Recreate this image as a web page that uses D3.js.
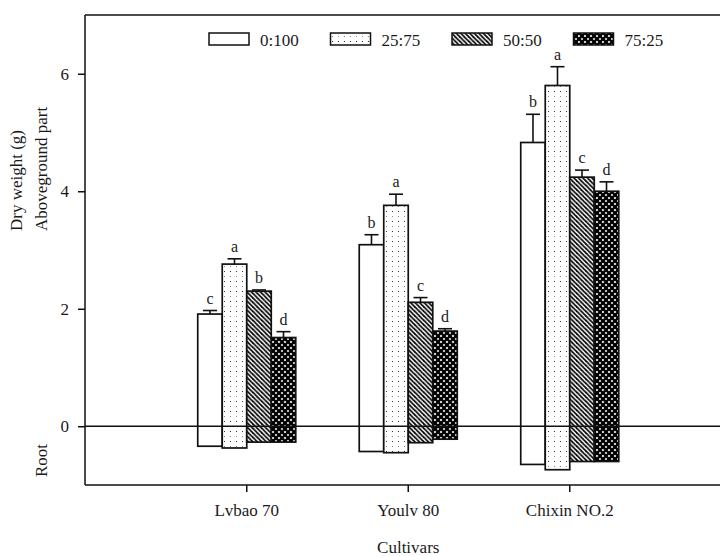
<!DOCTYPE html>
<html>
<head>
<meta charset="utf-8">
<script src="https://cdn.jsdelivr.net/npm/d3@7"></script>
<style>
  html, body { margin: 0; padding: 0; background: #ffffff; }
  svg { display: block; }
  svg text { font-family: "Liberation Serif", serif !important; fill: #1a1a1a; }
</style>
</head>
<body>
<svg id="chart" width="720" height="556"></svg>
<script>
// ---------- data ----------
const categories = ["Lvbao 70", "Youlv 80", "Chixin NO.2"];
const series = ["0:100", "25:75", "50:50", "75:25"];
// aboveground dry weight (g), per category, per series
const aboveValues = [
  [1.91, 2.76, 2.30, 1.51],
  [3.09, 3.76, 2.11, 1.62],
  [4.83, 5.80, 4.24, 4.00]
];
const aboveErrors = [
  [0.06, 0.09, 0.02, 0.10],
  [0.17, 0.19, 0.08, 0.04],
  [0.48, 0.32, 0.12, 0.16]
];
// root dry weight plotted downward
const rootValues = [
  [-0.34, -0.37, -0.27, -0.27],
  [-0.43, -0.45, -0.28, -0.22],
  [-0.65, -0.74, -0.60, -0.60]
];
const letters = [
  ["c", "a", "b", "d"],
  ["b", "a", "c", "d"],
  ["b", "a", "c", "d"]
];
const yTicks = [0, 2, 4, 6];

// ---------- setup ----------
const svg = d3.select("#chart");
const pLeft = 85, pRight = 720, pTop = 15, pBottom = 485;
const FONT = '"Liberation Serif", serif';

const defs = svg.append("defs");
// dotted pattern
const pDots = defs.append("pattern").attr("id", "p1")
  .attr("patternUnits", "userSpaceOnUse").attr("width", 6).attr("height", 10);
pDots.append("rect").attr("width", 6).attr("height", 10).attr("fill", "#fff");
pDots.append("rect").attr("x", 2).attr("y", 1).attr("width", 1).attr("height", 1).attr("fill", "#333");
pDots.append("rect").attr("x", 2).attr("y", 6).attr("width", 1).attr("height", 1).attr("fill", "#888");
// diagonal hatch "\\"
const hs = 4.5;
const pHatch = defs.append("pattern").attr("id", "p2")
  .attr("patternUnits", "userSpaceOnUse").attr("width", hs).attr("height", hs);
pHatch.append("rect").attr("width", hs).attr("height", hs).attr("fill", "#fff");
[[-1, -1, hs + 1, hs + 1], [-1, hs - 1, 1, hs + 1], [hs - 1, -1, hs + 1, 1]].forEach(l =>
  pHatch.append("line").attr("x1", l[0]).attr("y1", l[1]).attr("x2", l[2]).attr("y2", l[3])
    .attr("stroke", "#000").attr("stroke-width", 1.7));
// cross hatch
const cs = 6;
const pCross = defs.append("pattern").attr("id", "p3")
  .attr("patternUnits", "userSpaceOnUse").attr("width", cs).attr("height", cs);
pCross.append("rect").attr("width", cs).attr("height", cs).attr("fill", "#fff");
[[-1, -1, cs + 1, cs + 1], [-1, cs + 1, cs + 1, -1]].forEach(l =>
  pCross.append("line").attr("x1", l[0]).attr("y1", l[1]).attr("x2", l[2]).attr("y2", l[3])
    .attr("stroke", "#000").attr("stroke-width", 2.3));

const fills = ["#ffffff", "url(#p1)", "url(#p2)", "url(#p3)"];

// ---------- scales ----------
const y = d3.scaleLinear().domain([-1, 7]).range([pBottom, pTop]);
const x = d3.scaleBand().domain(categories).range([166, 650.5])
  .paddingInner(0.393).paddingOuter(0.1965);
const xs = d3.scaleBand().domain(series).range([0, x.bandwidth()]);

// ---------- bars ----------
const flat = [];
categories.forEach((c, i) => series.forEach((s, j) => flat.push({
  c, s, j, v: aboveValues[i][j], e: aboveErrors[i][j], r: rootValues[i][j], l: letters[i][j]
})));

const barG = svg.append("g");
flat.forEach(d => {
  const bx = x(d.c) + xs(d.s);
  barG.append("rect")
    .attr("x", bx).attr("width", xs.bandwidth())
    .attr("y", y(d.v)).attr("height", y(d.r) - y(d.v))
    .attr("fill", fills[d.j]).attr("stroke", "#111").attr("stroke-width", 1.7);
  const cx = bx + xs.bandwidth() / 2;
  barG.append("line").attr("x1", cx).attr("x2", cx)
    .attr("y1", y(d.v)).attr("y2", y(d.v + d.e))
    .attr("stroke", "#111").attr("stroke-width", 1.6);
  barG.append("line").attr("x1", cx - 7).attr("x2", cx + 7)
    .attr("y1", y(d.v + d.e)).attr("y2", y(d.v + d.e))
    .attr("stroke", "#111").attr("stroke-width", 1.6);
  barG.append("text").attr("x", cx).attr("y", y(d.v + d.e) - 7)
    .attr("text-anchor", "middle").style("font-family", FONT).attr("font-size", 16).text(d.l);
});

// ---------- frame / zero line ----------
const frame = svg.append("g").attr("stroke", "#111").attr("stroke-width", 1.5);
frame.append("line").attr("x1", pLeft).attr("x2", pLeft).attr("y1", pTop).attr("y2", pBottom);
frame.append("line").attr("x1", pLeft).attr("x2", pRight).attr("y1", pTop).attr("y2", pTop);
frame.append("line").attr("x1", pLeft).attr("x2", pRight).attr("y1", pBottom).attr("y2", pBottom);
frame.append("line").attr("x1", pLeft).attr("x2", pRight).attr("y1", y(0)).attr("y2", y(0));

// ---------- axes ----------
const ya = svg.append("g").attr("transform", `translate(${pLeft},0)`)
  .call(d3.axisLeft(y).tickValues(yTicks).tickSize(7).tickPadding(9).tickFormat(d3.format("d")));
ya.attr("font-family", null);
ya.select(".domain").remove();
ya.selectAll("line").attr("stroke", "#111").attr("stroke-width", 1.5);
ya.selectAll("text").attr("font-size", 17).style("font-family", FONT).attr("fill", "#1a1a1a");

const xa = svg.append("g").attr("transform", `translate(0,${pBottom})`)
  .call(d3.axisBottom(x).tickSize(7).tickPadding(12));
xa.attr("font-family", null);
xa.select(".domain").remove();
xa.selectAll("line").attr("stroke", "#111").attr("stroke-width", 1.5);
xa.selectAll("text").attr("font-size", 17).style("font-family", FONT).attr("fill", "#1a1a1a");

// ---------- titles ----------
svg.append("text").attr("x", x.range()[0] + (x.range()[1] - x.range()[0]) / 2).attr("y", 553)
  .attr("text-anchor", "middle").style("font-family", FONT).attr("font-size", 17).text("Cultivars");
svg.append("text").attr("transform", "translate(22,231) rotate(-90)")
  .attr("text-anchor", "start").style("font-family", FONT).attr("font-size", 17).text("Dry weight (g)");
svg.append("text").attr("transform", "translate(47,231) rotate(-90)")
  .attr("text-anchor", "start").style("font-family", FONT).attr("font-size", 17).text("Aboveground part");
svg.append("text").attr("transform", "translate(47,477) rotate(-90)")
  .attr("text-anchor", "start").style("font-family", FONT).attr("font-size", 17).text("Root");

// ---------- legend ----------
const lg = svg.append("g");
series.forEach((s, j) => {
  const lx = 209 + j * 121.5;
  lg.append("rect").attr("x", lx).attr("y", 33).attr("width", 40).attr("height", 12)
    .attr("fill", fills[j]).attr("stroke", "#111").attr("stroke-width", 1.5);
  lg.append("text").attr("x", lx + 51).attr("y", 45.5).style("font-family", FONT)
    .attr("font-size", 17).text(s);
});
</script>
</body>
</html>
